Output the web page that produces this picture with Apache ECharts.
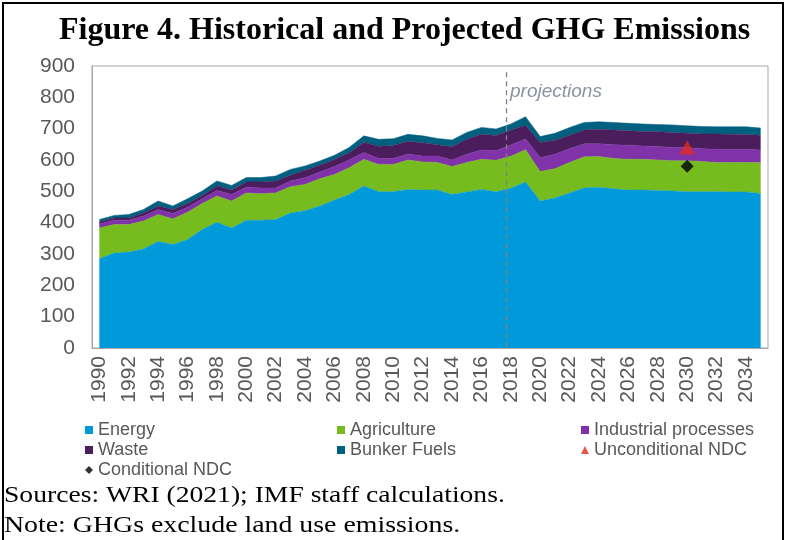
<!DOCTYPE html>
<html>
<head>
<meta charset="utf-8">
<script src="https://cdn.jsdelivr.net/npm/echarts@6/dist/echarts.min.js"></script>
<style>
html,body{margin:0;padding:0;background:#fff;}
#c{width:786px;height:540px;}
</style>
</head>
<body>
<div id="c"></div>
<script>
const years = ['1990','1991','1992','1993','1994','1995','1996','1997','1998','1999',
  '2000','2001','2002','2003','2004','2005','2006','2007','2008','2009',
  '2010','2011','2012','2013','2014','2015','2016','2017','2018','2019',
  '2020','2021','2022','2023','2024','2025','2026','2027','2028','2029',
  '2030','2031','2032','2033','2034','2035'];
const energy = [285,303,306,316,340,330,346,378,401,383,
  408,408,410,431,438,453,472,490,517,499,
  499,506,504,504,490,498,506,499,510,530,
  469,479,495,511,513,508,504,504,503,501,
  499,499,499,498,498,493];
const agriculture = [98,91,88,89,86,82,87,83,84,86,
  87,84,85,84,84,87,82,85,85,87,
  87,94,90,88,89,94,96,100,102,103,
  94,93,97,99,98,97,98,98,97,97,
  99,96,93,94,94,99];
const industrial = [13,14,14,16,16,17,16,15,18,21,
  18,19,16,18,21,22,25,25,22,19,
  19,19,19,21,21,26,30,31,36,34,
  44,46,44,42,41,44,45,43,43,42,
  42,41,42,42,42,40];
const waste = [7,7,7,10,11,13,12,11,14,14,
  17,19,22,18,24,21,23,23,33,39,
  41,41,42,36,42,48,50,48,47,44,
  49,45,43,44,46,47,46,46,47,48,
  45,47,49,48,47,47];
const bunker = [7,8,11,11,16,11,15,14,16,15,
  14,14,16,19,14,14,13,17,20,22,
  22,22,22,20,22,22,22,21,20,27,
  19,22,25,24,24,24,24,24,23,24,
  24,24,23,24,25,23];
const unconditionalNDC = [['2030', 640]];
const conditionalNDC = [['2030', 580]];
const projectionStart = 28.2; // position (in category widths from the left edge) of the projections divider

const colors = {
  Energy: '#009ADA',
  Agriculture: '#77BC1F',
  'Industrial processes': '#8033A8',
  Waste: '#4B1D5D',
  'Bunker Fuels': '#00607F'
};

function area(name, data) {
  return {
    name: name, type: 'line', stack: 'total', data: data,
    symbol: 'none', smooth: false,
    lineStyle: { width: 0.5, color: colors[name] },
    itemStyle: { color: colors[name] },
    areaStyle: { color: colors[name], opacity: 1 },
    emphasis: { disabled: true }, animation: false
  };
}

const chart = echarts.init(document.getElementById('c'), null, { renderer: 'canvas' });
const legendText = { fontFamily: 'Liberation Sans, Arial', fontSize: 18, color: '#595959' };
const legendCommon = { top: 416, orient: 'vertical', itemWidth: 8, itemHeight: 8, itemGap: 2, textStyle: legendText };
chart.setOption({
  animation: false,
  title: {
    text: 'Figure 4. Historical and Projected GHG Emissions',
    left: 54, top: 10,
    textStyle: { fontFamily: 'Liberation Serif, Times New Roman', fontWeight: 'bold', fontSize: 32, color: '#000' }
  },
  grid: { left: 92, right: 18, top: 66, bottom: 192, show: true, borderColor: '#A6A6A6', borderWidth: 1 },
  xAxis: [{
    type: 'category', data: years, boundaryGap: true,
    axisLine: { lineStyle: { color: '#A6A6A6' } },
    axisTick: { interval: 0, length: 6, lineStyle: { color: '#A6A6A6' } },
    axisLabel: { interval: 1, rotate: 90, margin: 8, fontFamily: 'Liberation Sans, Arial', fontSize: 21, color: '#595959' },
    splitLine: { show: false }
  }, {
    type: 'value', min: 0, max: years.length, show: false
  }],
  yAxis: {
    type: 'value', min: 0, max: 900, interval: 100,
    axisLine: { show: true, lineStyle: { color: '#A6A6A6' } },
    axisTick: { show: false },
    splitLine: { show: false },
    axisLabel: { margin: 17, fontFamily: 'Liberation Sans, Arial', fontSize: 21, color: '#595959' }
  },
  legend: [
    Object.assign({ left: 80, data: [{name:'Energy', icon:'rect'}, {name:'Waste', icon:'rect'}, {name:'Conditional NDC', icon:'diamond'}] }, legendCommon),
    Object.assign({ left: 332, data: [{name:'Agriculture', icon:'rect'}, {name:'Bunker Fuels', icon:'rect'}] }, legendCommon),
    Object.assign({ left: 576, data: [{name:'Industrial processes', icon:'rect'}, {name:'Unconditional NDC', icon:'triangle'}] }, legendCommon)
  ],
  series: [
    area('Energy', energy),
    area('Agriculture', agriculture),
    area('Industrial processes', industrial),
    area('Waste', waste),
    area('Bunker Fuels', bunker),
    {
      name: 'Unconditional NDC', type: 'scatter', data: unconditionalNDC,
      symbol: 'triangle', symbolSize: [16, 14], itemStyle: { color: '#E02B20' }, z: 5
    },
    {
      name: 'Conditional NDC', type: 'scatter', data: conditionalNDC,
      symbol: 'diamond', symbolSize: 13, itemStyle: { color: '#000' }, z: 5
    },
    {
      name: 'divider', type: 'scatter', xAxisIndex: 1, data: [], silent: true,
      markLine: {
        silent: true, symbol: 'none', animation: false,
        lineStyle: { color: '#808080', type: [5, 4], width: 1.3 },
        label: { show: false },
        data: [[{ coord: [projectionStart, 880] }, { coord: [projectionStart, 0] }]]
      }
    }
  ],
  graphic: [
    { type: 'text', left: 510, top: 82, style: { text: 'projections', fontFamily: 'Liberation Sans, Arial', fontStyle: 'italic', fontSize: 19, fill: '#8A93A5' } },
    { type: 'rect', shape: { x: 3, y: 3, width: 780, height: 600 }, style: { fill: 'none', stroke: '#000', lineWidth: 2 } },
    { type: 'text', x: 4, y: 484, scaleX: 1.15, style: { text: 'Sources: WRI (2021); IMF staff calculations.', fontFamily: 'Liberation Serif, Times New Roman', fontSize: 24, fill: '#000' } },
    { type: 'text', x: 4, y: 514, scaleX: 1.16, style: { text: 'Note: GHGs exclude land use emissions.', fontFamily: 'Liberation Serif, Times New Roman', fontSize: 24, fill: '#000' } }
  ]
});
</script>
</body>
</html>
